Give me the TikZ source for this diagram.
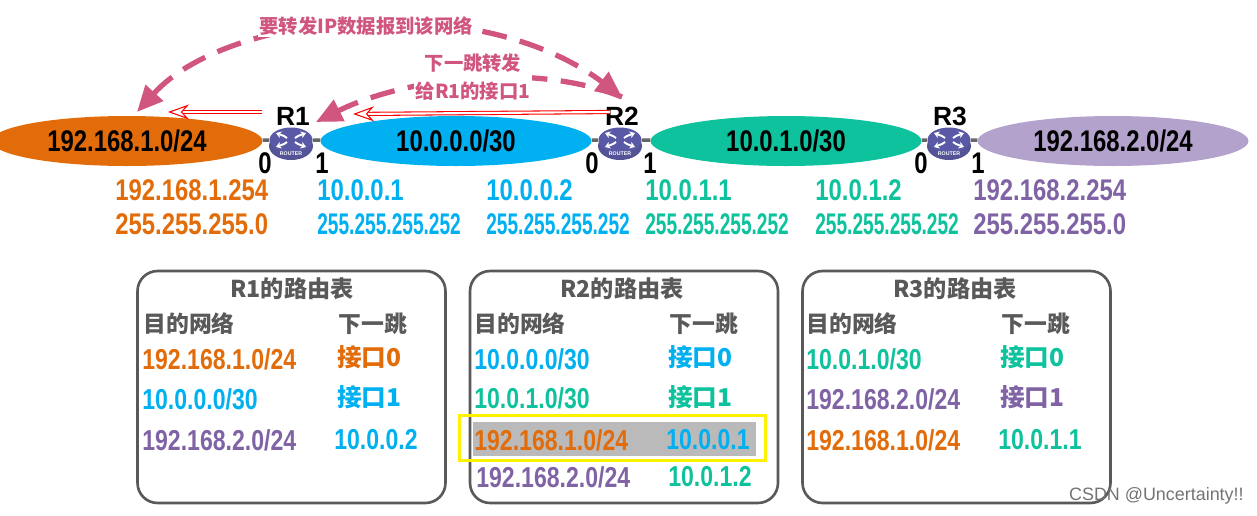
\documentclass[tikz,border=0pt]{standalone}
\usepackage{fontspec}
\usetikzlibrary{arrows.meta,shapes.geometric}
\setmainfont{Liberation Sans}
\newfontfamily\netfont{Liberation Sans}[FakeStretch=0.8]
\newfontfamily\maskfont{Liberation Sans}[FakeStretch=0.64]
\newfontfamily\cjkfont{Noto Sans CJK SC}

\definecolor{netorange}{HTML}{E36C0A}
\definecolor{netblue}{HTML}{00B0F0}
\definecolor{netgreen}{HTML}{0DC29C}
\definecolor{netpurple}{HTML}{7F63A4}
\definecolor{netlilac}{HTML}{B3A2CC}
\definecolor{tabletext}{HTML}{595959}
\definecolor{notepink}{HTML}{D0557F}

\tikzset{
  net/.style={ellipse, minimum width=5.42cm, minimum height=1cm, inner sep=0pt,
    font=\netfont\bfseries\fontsize{17}{19}\selectfont},
  link/.style={draw=gray!80!black, line width=2pt},
  routername/.style={inner sep=0pt, font=\bfseries\fontsize{15}{17}\selectfont},
  portnum/.style={inner sep=0pt, font=\netfont\bfseries\fontsize{17}{19}\selectfont},
  addr/.style={anchor=west, inner sep=0pt, font=\netfont\bfseries\fontsize{17}{19}\selectfont},
  maskaddr/.style={anchor=west, inner sep=0pt, font=\maskfont\bfseries\fontsize{17}{19}\selectfont},
  tablebox/.style={draw=tabletext, line width=1.5pt, rounded corners=0.4cm,
    minimum width=6.16cm, minimum height=4.64cm, inner sep=0pt},
  tabletitle/.style={inner sep=0pt, text=tabletext, font=\cjkfont\bfseries\fontsize{13.2}{16}\selectfont},
  tablehead/.style={anchor=west, inner sep=0pt, text=tabletext, font=\cjkfont\bfseries\fontsize{13}{15}\selectfont},
  cell/.style={anchor=west, inner sep=0pt, font=\netfont\bfseries\fontsize{16.4}{18}\selectfont},
  portcell/.style={anchor=west, inner sep=0pt, font=\cjkfont\bfseries\fontsize{14}{16}\selectfont},
  note/.style={fill=white, inner sep=1pt, align=center, text=notepink,
    font=\cjkfont\bfseries\fontsize{11}{16}\selectfont},
  hop/.style={draw=notepink, line width=3pt, dash pattern=on 0.5cm off 0.27cm},
  hoptip/.tip={Triangle[length=0.52cm, width=0.46cm, fill=notepink]},
  trace/.style={draw=red, double=white, double distance=1.2pt, line width=0.6pt,
    -{Stealth[open, length=0.42cm, width=0.3cm, fill=white]}},
  routericon/.pic={
    \fill[black!25!blue!35!gray] (0,5) ellipse [x radius=22, y radius=14];
    \node[ellipse, fill=blue!30!gray, minimum width=0.86cm, minimum height=0.5cm, inner sep=0pt] (-body) at (0,-1) {};
    \foreach \sx in {-1,1}
      \foreach \sy in {-1,1}
        \draw[white, line width=1.1pt, -{Stealth[length=3pt, width=4pt]}]
          (\sx*4,{-1+\sy*2}) -- (\sx*7,{-1+\sy*4}) -- (\sx*15,{-1+\sy*7});
    \node[inner sep=0pt, text=white, font=\bfseries\fontsize{3}{3}\selectfont] (-tag) at (0,13) {ROUTER};
  }
}

\begin{document}
\begin{tikzpicture}[x=0.02cm, y=-0.02cm]
  \useasboundingbox (0,0) rectangle (1257,515);

  % Networks
  \node[net, fill=netorange] (netA) at (127,141) {192.168.1.0/24};
  \node[net, fill=netblue] (netB) at (456,141) {10.0.0.0/30};
  \node[net, fill=netgreen] (netC) at (786,141) {10.0.1.0/30};
  \node[net, fill=netlilac] (netD) at (1113,141) {192.168.2.0/24};

  % Routers
  \pic (rA) at (291,141) {routericon};
  \pic (rB) at (620,141) {routericon};
  \pic (rC) at (949,141) {routericon};
  \draw[link] (netA) -- (rA-body);
  \draw[link] (rA-body) -- (netB);
  \draw[link] (netB) -- (rB-body);
  \draw[link] (rB-body) -- (netC);
  \draw[link] (netC) -- (rC-body);
  \draw[link] (rC-body) -- (netD);
  \node[routername] (nameA) at (293,116) {R1};
  \node[routername] (nameB) at (622,116) {R2};
  \node[routername] (nameC) at (950,116) {R3};
  \foreach \n/\x in {A/265,B/592,C/921}
    \node[portnum] (port0\n) at (\x,163) {0};
  \foreach \n/\x in {A/322,B/650,C/978}
    \node[portnum] (port1\n) at (\x,163) {1};

  % Interface addresses
  \node[addr, text=netorange] (ipA) at (115,190) {192.168.1.254};
  \node[addr, text=netorange] (maskA) at (115,224) {255.255.255.0};
  \node[addr, text=netblue] (ipB) at (317,190) {10.0.0.1};
  \node[maskaddr, text=netblue] (maskB) at (317,224) {255.255.255.252};
  \node[addr, text=netblue] (ipC) at (486,190) {10.0.0.2};
  \node[maskaddr, text=netblue] (maskC) at (486,224) {255.255.255.252};
  \node[addr, text=netgreen] (ipD) at (645,190) {10.0.1.1};
  \node[maskaddr, text=netgreen] (maskD) at (645,224) {255.255.255.252};
  \node[addr, text=netgreen] (ipE) at (815,190) {10.0.1.2};
  \node[maskaddr, text=netgreen] (maskE) at (815,224) {255.255.255.252};
  \node[addr, text=netpurple] (ipF) at (973,190) {192.168.2.254};
  \node[addr, text=netpurple] (maskF) at (973,224) {255.255.255.0};

  % Forwarding arcs
  \coordinate (tipA) at (137,112);
  \coordinate (tipB) at (622,97);
  \coordinate (tipC) at (316,122);
  \draw[hop, hoptip-hoptip] (tipA) .. controls (230,10) and (480,-10) .. (tipB);
  \draw[hop, -hoptip] (tipB) .. controls (530,60) and (400,80) .. (tipC);
  \node[note] (noteA) at (366,26) {要转发IP数据报到该网络};
  \node[note] (noteB) at (473,77) {下一跳转发\\给R1的接口1};

  % Red trace
  \coordinate (traceA) at (262,112);
  \coordinate (traceB) at (168,112);
  \coordinate (traceC) at (610,112);
  \coordinate (traceD) at (353,114);
  \draw[trace] (traceA) -- (traceB);
  \draw[trace] (traceC) -- (traceD);

  % Routing tables
  \node[tablebox] (tabA) at (291.5,387) {};
  \node[tablebox] (tabB) at (624,387) {};
  \node[tablebox] (tabC) at (956.5,387) {};
  \node[tabletitle] (titleA) at (292,289) {R1的路由表};
  \node[tabletitle] (titleB) at (622,289) {R2的路由表};
  \node[tabletitle] (titleC) at (955,289) {R3的路由表};
  \foreach \n/\x in {A/143,B/474,C/806} {
    \node[tablehead] (dest\n) at (\x,324) {目的网络};
    \node[tablehead] (next\n) at (\x+195,324) {下一跳};
  }

  % Highlighted row
  \node[fill=black!27, minimum width=5.66cm, minimum height=0.68cm, inner sep=0pt] (hiliteRow) at (614.5,439) {};
  \node[draw=yellow, line width=2pt, minimum width=6.12cm, minimum height=0.9cm, inner sep=0pt] (hiliteBox) at (612.5,438) {};

  % R1 rows
  \foreach \i/\y/\txt/\col in {1/359/{192.168.1.0/24}/netorange, 2/399/{10.0.0.0/30}/netblue, 3/440/{192.168.2.0/24}/netpurple}
    \node[cell, text=\col] (destA\i) at (142,\y) {\txt};
  \node[portcell, text=netorange] (hopA1) at (337,357) {接口0};
  \node[portcell, text=netblue] (hopA2) at (337,397) {接口1};
  \node[cell, text=netblue] (hopA3) at (334,440) {10.0.0.2};

  % R2 rows
  \foreach \i/\x/\y/\txt/\col in {1/474/359/{10.0.0.0/30}/netblue, 2/474/398/{10.0.1.0/30}/netgreen, 3/474/440/{192.168.1.0/24}/netorange, 4/476/477/{192.168.2.0/24}/netpurple}
    \node[cell, text=\col] (destB\i) at (\x,\y) {\txt};
  \node[portcell, text=netblue] (hopB1) at (668,357) {接口0};
  \node[portcell, text=netgreen] (hopB2) at (668,397) {接口1};
  \node[cell, text=netblue] (hopB3) at (666,440) {10.0.0.1};
  \node[cell, text=netgreen] (hopB4) at (668,477) {10.0.1.2};

  % R3 rows
  \foreach \i/\y/\txt/\col in {1/359/{10.0.1.0/30}/netgreen, 2/399/{192.168.2.0/24}/netpurple, 3/440/{192.168.1.0/24}/netorange}
    \node[cell, text=\col] (destC\i) at (806,\y) {\txt};
  \node[portcell, text=netgreen] (hopC1) at (1000,357) {接口0};
  \node[portcell, text=netpurple] (hopC2) at (1000,397) {接口1};
  \node[cell, text=netgreen] (hopC3) at (998,440) {10.0.1.1};

  \node[anchor=east, inner sep=0pt, text=black!55, font=\fontsize{10.2}{13}\selectfont] (mark) at (1244,496) {CSDN @Uncertainty!!};
\end{tikzpicture}
\end{document}
